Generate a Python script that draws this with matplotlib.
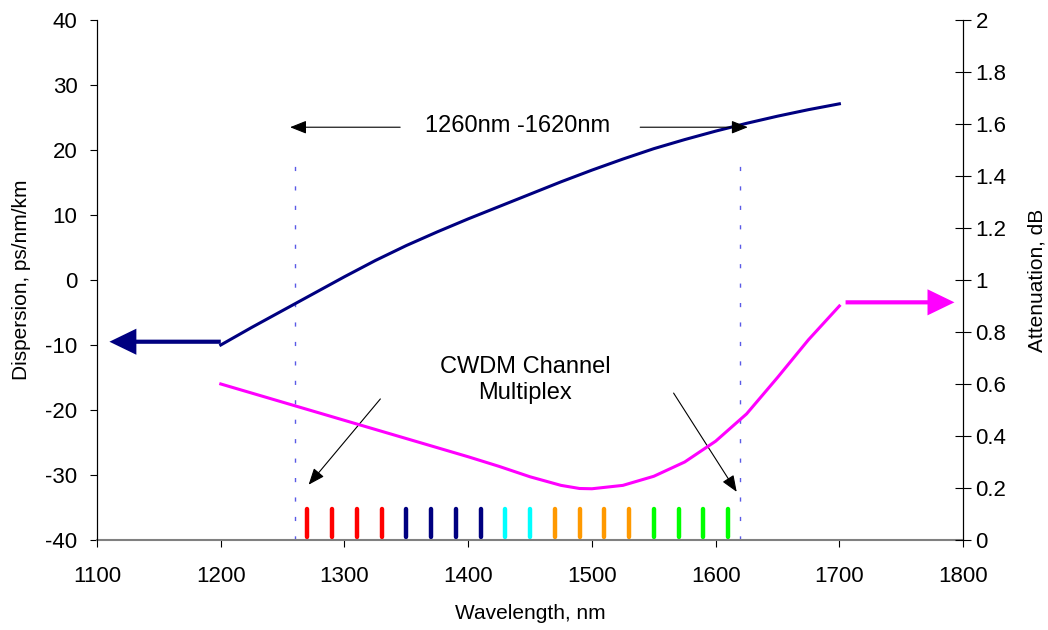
import matplotlib
matplotlib.use("Agg")
import matplotlib.pyplot as plt

plt.rcParams['font.family'] = ['Liberation Sans', 'DejaVu Sans']
plt.rcParams['axes.unicode_minus'] = False

# dispersion curve, ps/nm/km
disp_wl = [1200, 1225, 1250, 1275, 1300, 1325, 1350, 1375, 1400, 1425, 1450,
           1475, 1500, 1525, 1550, 1575, 1600, 1625, 1650, 1675, 1700]
disp_val = [-10.0, -7.3, -4.7, -2.1, 0.5, 3.0, 5.3, 7.4, 9.4, 11.3, 13.2,
            15.1, 16.9, 18.6, 20.2, 21.6, 22.9, 24.1, 25.2, 26.2, 27.1]

# attenuation curve, dB
att_wl = [1200, 1225, 1250, 1275, 1300, 1325, 1350, 1375, 1400, 1425, 1450,
          1475, 1490, 1500, 1525, 1550, 1575, 1600, 1625, 1650, 1675, 1700]
att_val = [0.60, 0.565, 0.53, 0.495, 0.46, 0.425, 0.39, 0.355, 0.32, 0.283, 0.243,
           0.21, 0.198, 0.197, 0.21, 0.245, 0.30, 0.38, 0.485, 0.625, 0.77, 0.90]

# CWDM channels
chan_wl = [1270, 1290, 1310, 1330, 1350, 1370, 1390, 1410, 1430,
           1450, 1470, 1490, 1510, 1530, 1550, 1570, 1590, 1610]
chan_col = ['#ff0000'] * 4 + ['#000080'] * 4 + ['#00ffff'] * 2 + ['#ff9900'] * 4 + ['#00ff00'] * 4
band_edges = [1260, 1620]

fig = plt.figure(figsize=(10.48, 6.30), dpi=100)
ax = fig.add_axes([0.0926, 0.1429, 0.8264, 0.8254])
ax2 = ax.twinx()

ax.set_xlim(1100, 1800)
ax.set_ylim(-40, 40)
ax2.set_ylim(0, 2)
ax.set_xticks(range(1100, 1801, 100))
ax.set_yticks(range(-40, 41, 10))
ax2.set_yticks([0, 0.2, 0.4, 0.6, 0.8, 1, 1.2, 1.4, 1.6, 1.8, 2])
ax2.set_yticklabels(['0', '0.2', '0.4', '0.6', '0.8', '1', '1.2', '1.4', '1.6', '1.8', '2'])

for a in (ax, ax2):
    a.spines['top'].set_visible(False)
ax.spines['bottom'].set_color('#808080')
ax.spines['bottom'].set_linewidth(1.5)
ax2.spines['bottom'].set_visible(False)
fs = 16
ax.tick_params(axis='y', direction='out', length=5, labelsize=fs, pad=9)
ax.tick_params(axis='x', direction='out', length=5, labelsize=fs, pad=14)
ax2.tick_params(axis='y', direction='inout', length=12, labelsize=fs, pad=3)

ax.set_xlabel('Wavelength, nm', fontsize=15, labelpad=12)
ax.set_ylabel('Dispersion, ps/nm/km', fontsize=15, labelpad=10)
ax2.set_ylabel('Attenuation, dB', fontsize=15, labelpad=15)

# band edges
for wl in band_edges:
    ax.plot([wl, wl], [-40, 18.5], color='#5a5ae6', lw=1, linestyle=(0, (3, 11)))

# channels
ax.vlines(chan_wl, -39.5, -35.3, colors=chan_col, lw=3.2, capstyle='round')

ax.plot(disp_wl, disp_val, color='#000080', lw=2.2, zorder=3)
ax2.plot(att_wl, att_val, color='#ff00ff', lw=2.2, zorder=3)

# big axis arrows
big = 'simple,head_length=0.97,head_width=0.94,tail_width=0.15'
ax.annotate('', xy=(1110, -9.5), xytext=(1200, -9.5),
            arrowprops=dict(arrowstyle=big, color='#000080', lw=0,
                            shrinkA=0, shrinkB=0, mutation_scale=20))
ax2.annotate('', xy=(1793, 0.914), xytext=(1705, 0.914),
             arrowprops=dict(arrowstyle=big, color='#ff00ff', lw=0,
                             shrinkA=0, shrinkB=0, mutation_scale=20))

# range annotation
ax.text(1440, 23.7, '1260nm -1620nm', fontsize=17, ha='center', va='center')
small = dict(arrowstyle='-|>,head_length=1.0,head_width=0.4', color='black', lw=0.8,
             shrinkA=0, shrinkB=0, mutation_scale=10)
ax.annotate('', xy=(1256, 23.5), xytext=(1345, 23.5), arrowprops=small)
ax.annotate('', xy=(1626, 23.5), xytext=(1539, 23.5), arrowprops=small)

# CWDM label
ax.text(1446, -15.4, 'CWDM Channel\nMultiplex', fontsize=17, ha='center', va='center',
        linespacing=1.2)
ax.annotate('', xy=(1271, -31.5), xytext=(1329, -18.3), arrowprops=small)
ax.annotate('', xy=(1617, -32.6), xytext=(1566, -17.4), arrowprops=small)

fig.savefig('out.png', dpi=100)
